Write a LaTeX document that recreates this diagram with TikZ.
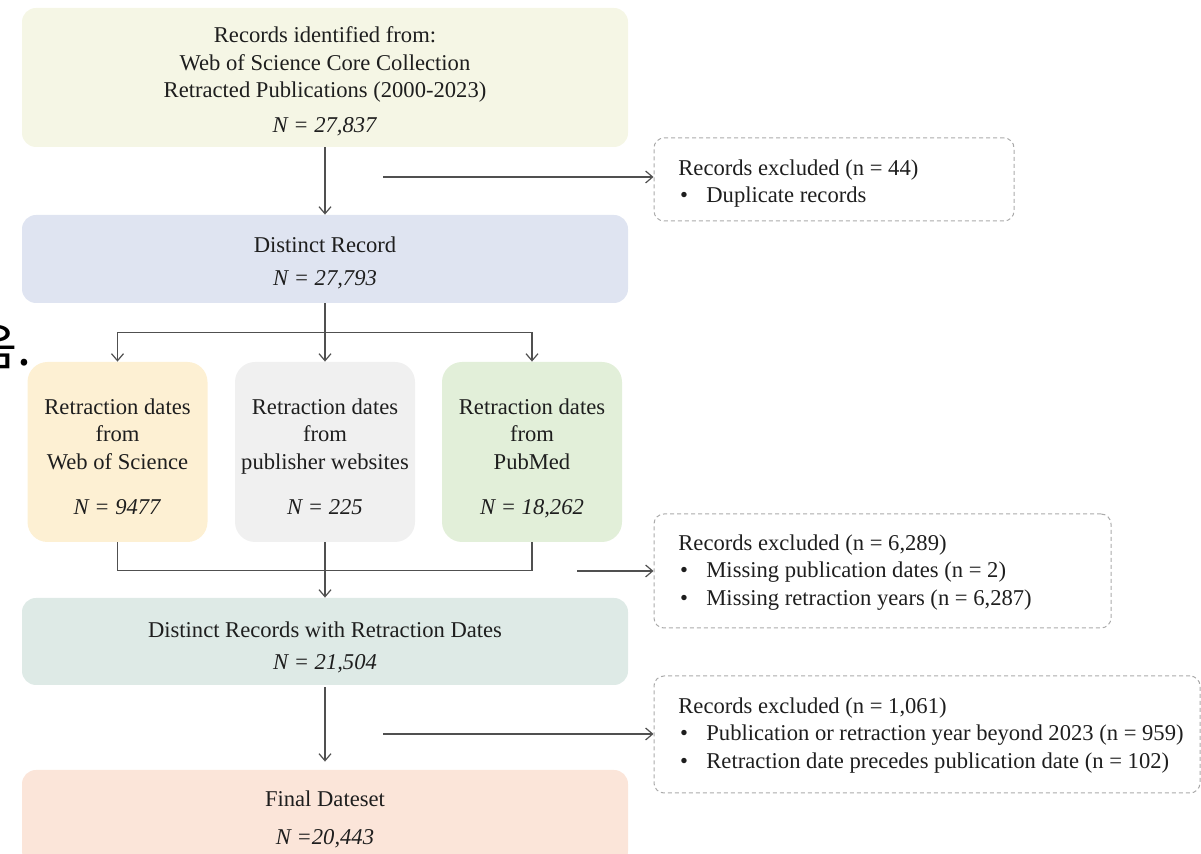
\documentclass[tikz,border=0pt]{standalone}
\usepackage{fontspec}
\setmainfont{Liberation Serif}
\newfontfamily\krfont{Noto Sans CJK KR}
\usetikzlibrary{arrows.meta}
\definecolor{cOne}{RGB}{245,246,229}
\definecolor{cTwo}{RGB}{223,228,241}
\definecolor{cA}{RGB}{253,240,211}
\definecolor{cB}{RGB}{240,240,240}
\definecolor{cC}{RGB}{226,239,217}
\definecolor{cFour}{RGB}{222,234,230}
\definecolor{cFive}{RGB}{251,229,217}
\definecolor{ink}{RGB}{30,30,30}
\definecolor{wire}{RGB}{80,80,80}
\definecolor{dashc}{RGB}{170,170,170}
\newcommand\liftby[1]{\rule{0pt}{#1}}
\begin{document}
\begin{tikzpicture}[x=0.5pt,y=-0.5pt,
  txt/.style={font=\fontsize{11.3}{13.75}\selectfont, text=ink},
  mainbox/.style={txt, draw=none, rounded corners=7pt, align=center, inner sep=0pt},
  srcbox/.style={mainbox, rounded corners=10pt, minimum width=90pt, minimum height=90pt},
  exbox/.style={draw=dashc, line width=0.5pt, dash pattern=on 2pt off 1.5pt, rounded corners=5pt, inner sep=0pt},
  extext/.style={txt, align=left, inner sep=0pt, anchor=west},
  wireline/.style={draw=wire, line width=0.6pt},
  arr/.style={wireline, -{Straight Barb[length=3.5pt,width=6pt]}}
]
\useasboundingbox (0,0) rectangle (1201,854);

% Korean fragment at the left edge
\node[anchor=base west, inner sep=0pt, font=\krfont\fontsize{25}{25}\selectfont, text=black] (kr) at (-29,366) {음.};

% main boxes
\node[mainbox, fill=cOne, minimum width=303pt, minimum height=69.5pt] (b1) at (325,77.5)
  {\liftby{11.7pt}Records identified from:\\Web of Science Core Collection\\Retracted Publications (2000-2023)\\[3.5pt]\textit{N = 27,837}};
\node[mainbox, fill=cTwo, minimum width=303pt, minimum height=44pt] (b2) at (325,259)
  {\liftby{11.7pt}Distinct Record\\[2.75pt]\textit{N = 27,793}};
\node[srcbox, fill=cA] (bA) at (117.5,452)
  {\liftby{12.7pt}Retraction dates\\from\\Web of Science\\[9pt]\textit{N = 9477}};
\node[srcbox, fill=cB] (bB) at (325,452)
  {\liftby{12.7pt}Retraction dates\\from\\publisher websites\\[9pt]\textit{N = 225}};
\node[srcbox, fill=cC] (bC) at (532,452)
  {\liftby{12.7pt}Retraction dates\\from\\PubMed\vphantom{p}\\[9pt]\textit{N = 18\smash{,}262}};
\node[mainbox, fill=cFour, minimum width=303pt, minimum height=43.5pt] (b4) at (325,641.5)
  {\liftby{13.7pt}Distinct Records with Retraction Dates\\[2.5pt]\textit{N = 21,504}};
\node[mainbox, fill=cFive, minimum width=303pt, minimum height=47.5pt] (b5) at (325,817.5)
  {\liftby{9.7pt}Final Dateset\\[5.5pt]\textit{N =20,443}};

% exclusion boxes
\node[exbox, minimum width=180pt, minimum height=41.5pt] (d1) at (834,179.5) {};
\node[extext] (t1) at (678,183.5)
  {Records excluded (n = 44)\\\makebox[14pt][l]{\hspace{0.8pt}•}Duplicate records};
\node[exbox, minimum width=228.5pt, minimum height=57pt] (d2) at (882.5,571) {};
\node[extext] (t2) at (678,572.5)
  {Records excluded (n = 6,289)\\\makebox[14pt][l]{\hspace{0.8pt}•}Missing publication dates (n = 2)\\\makebox[14pt][l]{\hspace{0.8pt}•}Missing retraction years (n = 6,287)};
\node[exbox, minimum width=273pt, minimum height=58.5pt] (d3) at (927,734.5) {};
\node[extext] (t3) at (678,735.5)
  {Records excluded (n = 1,061)\\\makebox[14pt][l]{\hspace{0.8pt}•}Publication or retraction year beyond 2023 (n = 959)\\\makebox[14pt][l]{\hspace{0.8pt}•}Retraction date precedes publication date (n = 102)};

% connectors
\draw[arr] (b1.south) -- (b2.north);
\coordinate (e1) at (383,177);
\draw[arr] (e1) -- (e1 -| d1.west);

\draw[wireline] (b2.south) -- ++(0,29) coordinate (sp);
\draw[arr] (sp) -| (bA.north);
\draw[arr] (sp) -| (bC.north);
\draw[arr] (sp) -- (bB.north);

\draw[wireline] (bA.south) -- ++(0,28) -| (bC.south);
\draw[arr] (bB.south) -- (b4.north);
\coordinate (e2) at (577,571);
\draw[arr] (e2) -- (e2 -| d2.west);

\draw[arr, shorten <=1pt, shorten >=4pt] (b4.south) -- (b5.north);
\coordinate (e3) at (383,734);
\draw[arr] (e3) -- (e3 -| d3.west);
\end{tikzpicture}
\end{document}
